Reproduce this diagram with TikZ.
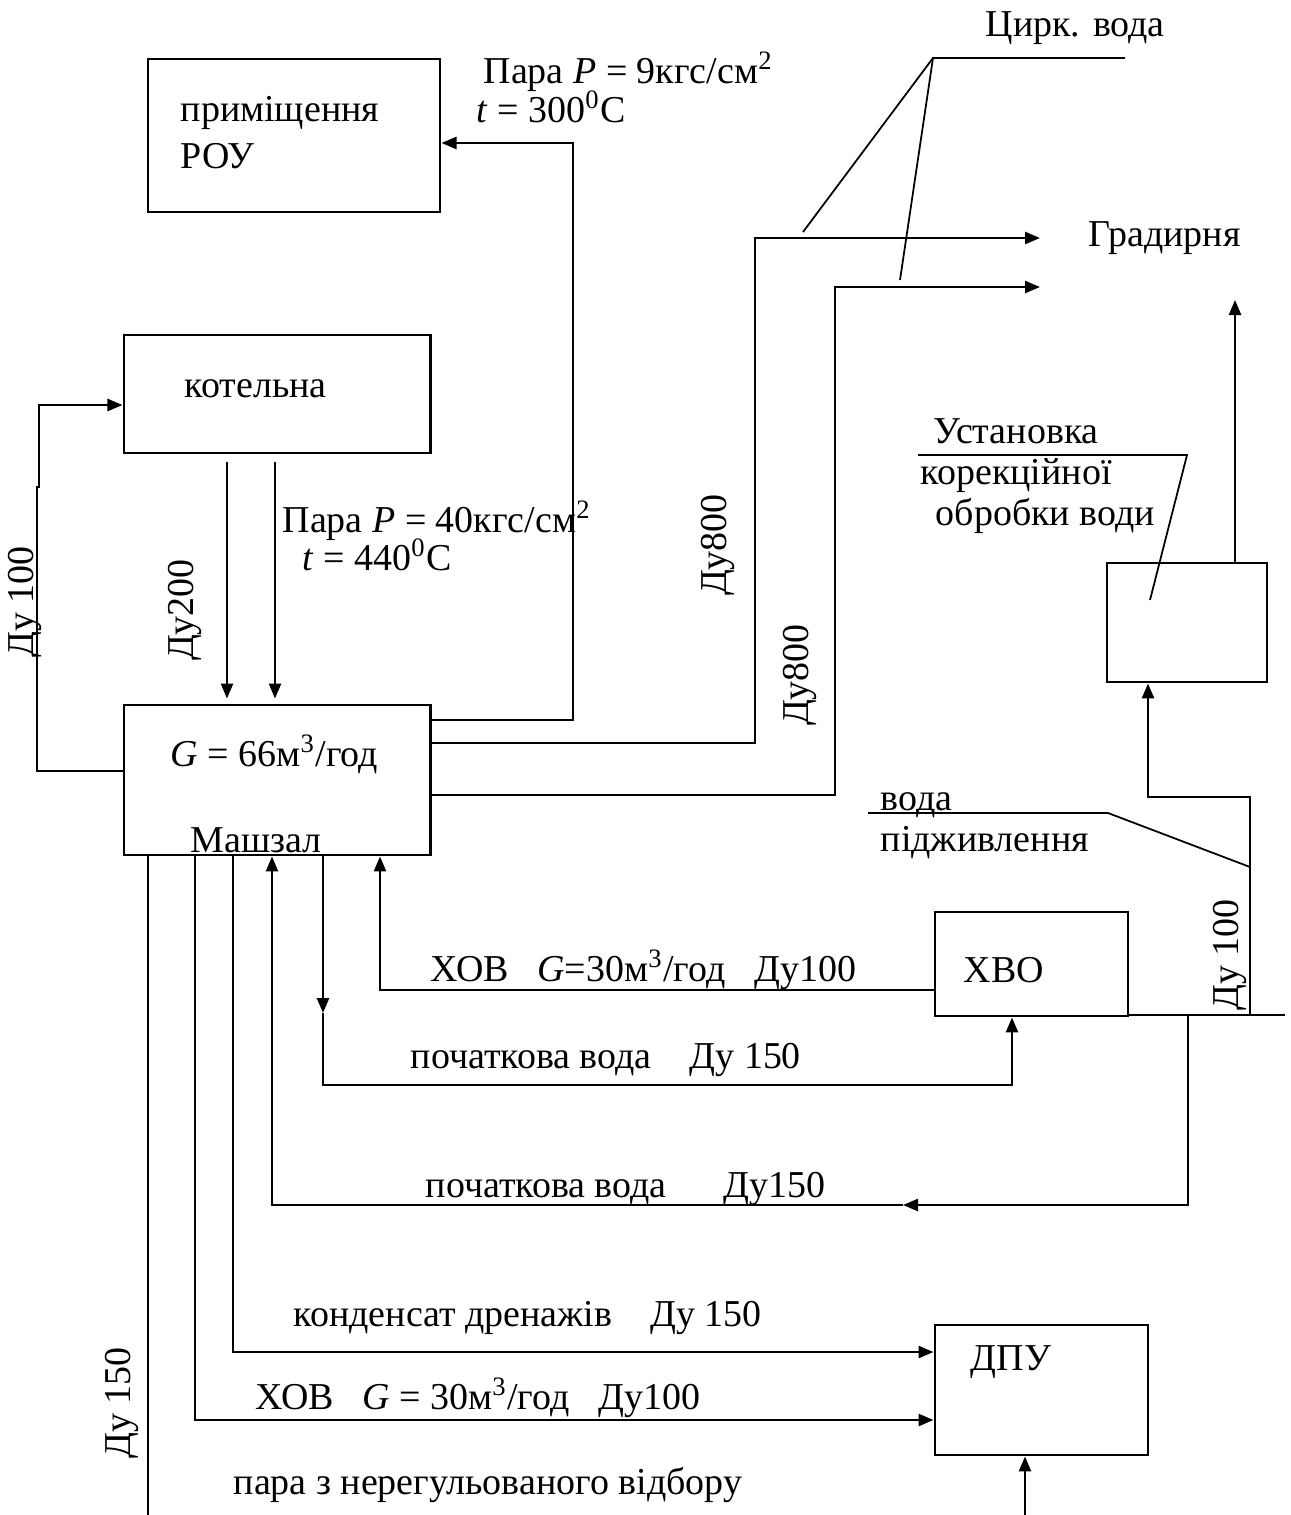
\documentclass[tikz,border=0pt]{standalone}
\usepackage{fontspec}
\setmainfont{Liberation Serif}
\usetikzlibrary{positioning,arrows.meta}

\begin{document}
\begin{tikzpicture}[x=0.01cm, y=-0.01cm,
  every node/.style={font=\fontsize{10.8}{13}\selectfont, inner sep=0pt},
  unit/.style={draw, line width=0.8pt},
  txt/.style={anchor=base west},
  dn/.style={rotate=90},
  flow/.style={-{Triangle[length=1.5mm, width=1.2mm]}, line width=0.7pt},
  pipe/.style={line width=0.7pt},
  leader/.style={line width=0.5pt},
]
\useasboundingbox (0,0) rectangle (1291,1515);

% ---- units -------------------------------------------------------------
\node[unit, minimum width=2.92cm, minimum height=1.53cm] (rou)   at (294,135.5) {};
\node[unit, minimum width=3.06cm, minimum height=1.18cm] (kotel) at (277,394)   {};
\node[unit, minimum width=3.06cm, minimum height=1.50cm] (mash)  at (277,780)   {};
\node[unit, minimum width=1.60cm, minimum height=1.19cm] (korek) at (1187,622.5){};
\node[unit, minimum width=1.93cm, minimum height=1.04cm] (hvo)   at (1031.5,964){};
\node[unit, minimum width=2.13cm, minimum height=1.30cm] (dpu)   at (1041.5,1390){};

% ---- texts -------------------------------------------------------------
\node[txt] (rouA)  at (180,121)  {приміщення};
\node[txt] (rouB)  at (180,168)  {РОУ};
\node[txt] (p9)    at (483,83)   {Пара \textit{P} = 9кгс/см\textsuperscript{2}};
\node[txt] (t300)  at (476,122)  {\textit{t} = 300\textsuperscript{0}С};
\node[txt] (cirk)  at (985,36)   {Цирк. вода};
\node[txt] (grad)  at (1088,246) {Градирня};
\node[txt] (kotT)  at (184,397)  {котельна};
\node[txt] (p40)   at (282,532)  {Пара \textit{P} = 40кгс/см\textsuperscript{2}};
\node[txt] (t440)  at (302,570)  {\textit{t} = 440\textsuperscript{0}С};
\node[txt] (korA)  at (933,443)  {Установка};
\node[txt] (korB)  at (920,484)  {корекційної};
\node[txt] (korC)  at (935,525)  {обробки води};
\node[txt] (g66)   at (170,766)  {\textit{G} = 66м\textsuperscript{3}/год};
\node[txt] (mashT) at (190,852)  {Машзал};
\node[txt] (podA)  at (880,810)  {вода};
\node[txt] (podB)  at (880,851)  {підживлення};
\node[txt] (hvoT)  at (963,982)  {ХВО};
\node[txt] (hov1)  at (430,981)  {ХОВ\ \ \ \textit{G}=30м\textsuperscript{3}/год\ \ \ Ду100};
\node[txt] (poc1)  at (410,1068) {початкова вода\ \ \ \ Ду 150};
\node[txt] (poc2)  at (425,1197) {початкова вода\ \ \ \ \ \ Ду150};
\node[txt] (kond)  at (293,1326) {конденсат дренажів\ \ \ \ Ду 150};
\node[txt] (dpuT)  at (970,1370) {ДПУ};
\node[txt] (hov2)  at (255,1409) {ХОВ\ \ \ \textit{G} = 30м\textsuperscript{3}/год\ \ \ Ду100};
\node[txt] (para)  at (233,1494) {пара з нерегульованого відбору};

\node[dn] (du100a) at (25,602)   {Ду 100};
\node[dn] (du200)  at (185,610)  {Ду200};
\node[dn] (du800a) at (718,545)  {Ду800};
\node[dn] (du800b) at (800,675)  {Ду800};
\node[dn] (du100b) at (1230,955) {Ду 100};
\node[dn] (du150)  at (122,1403) {Ду 150};

% ---- free ends ---------------------------------------------------------
\coordinate (grad1) at (1040,238);
\coordinate (grad2) at (1040,287);
\coordinate (korout) at (1235,300);
\coordinate (hvoR) at (1285,1015);
\coordinate (pv1) at (323,1013);
\coordinate (pv2) at (903,1205);
\coordinate (bottomL) at (148,1515);
\coordinate (bottomR) at (1025,1515);

% ---- steam -------------------------------------------------------------
\draw[flow] (mash.east |- 0,720) -- (573,720) -- (573,143) -- (rou.east |- 0,143);
\draw[flow, shorten <=0.08cm, shorten >=0.05cm] (kotel.south -| 227,0) -- (mash.north -| 227,0);
\draw[flow, shorten <=0.08cm, shorten >=0.05cm] (kotel.south -| 275,0) -- (mash.north -| 275,0);
\draw[flow] (mash.west |- 0,771) -- (37,771) -- (37,487) -- (39,487) -- (39,405) -- (kotel.west |- 0,405);

% ---- circulating water -------------------------------------------------
\draw[flow] (mash.east |- 0,743) -- (755,743) -- (755,238) -- (grad1);
\draw[flow] (mash.east |- 0,795) -- (835,795) -- (835,287) -- (grad2);
\draw[leader] (1125,58) -- (933,58) -- (803,232);
\draw[leader] (933,58) -- (900,280);

% ---- correction unit ---------------------------------------------------
\draw[flow] (korek.north -| 1235,0) -- (korout);
\draw[flow] (1250,1015) -- (1250,797) -- (1148,797) -- (korek.south -| 1148,0);
\draw[leader] (918,455) -- (1187,455) -- (1150,600);
\draw[leader] (868,813) -- (1108,813) -- (1250,867);

% ---- chemically treated water ------------------------------------------
\draw[pipe] (hvo.east |- 0,1015) -- (hvoR);
\draw[flow] (hvo.west |- 0,990) -- (380,990) -- (mash.south -| 380,0);
\draw[flow] (mash.south -| 323,0) -- (pv1);
\draw[flow] (pv1) -- (323,1085) -- (1012,1085) -- (hvo.south -| 1012,0);
\draw[flow] (1188,1015) -- (1188,1205) -- (pv2);
\draw[flow] (pv2) -- (272,1205) -- (mash.south -| 272,0);

% ---- deaerator ---------------------------------------------------------
\draw[flow] (mash.south -| 233,0) -- (233,1352) -- (dpu.west |- 0,1352);
\draw[flow] (mash.south -| 195,0) -- (195,1420) -- (dpu.west |- 0,1420);
\draw[pipe] (mash.south -| 148,0) -- (bottomL);
\draw[flow] (bottomR) -- (dpu.south -| 1025,0);

\end{tikzpicture}
\end{document}
